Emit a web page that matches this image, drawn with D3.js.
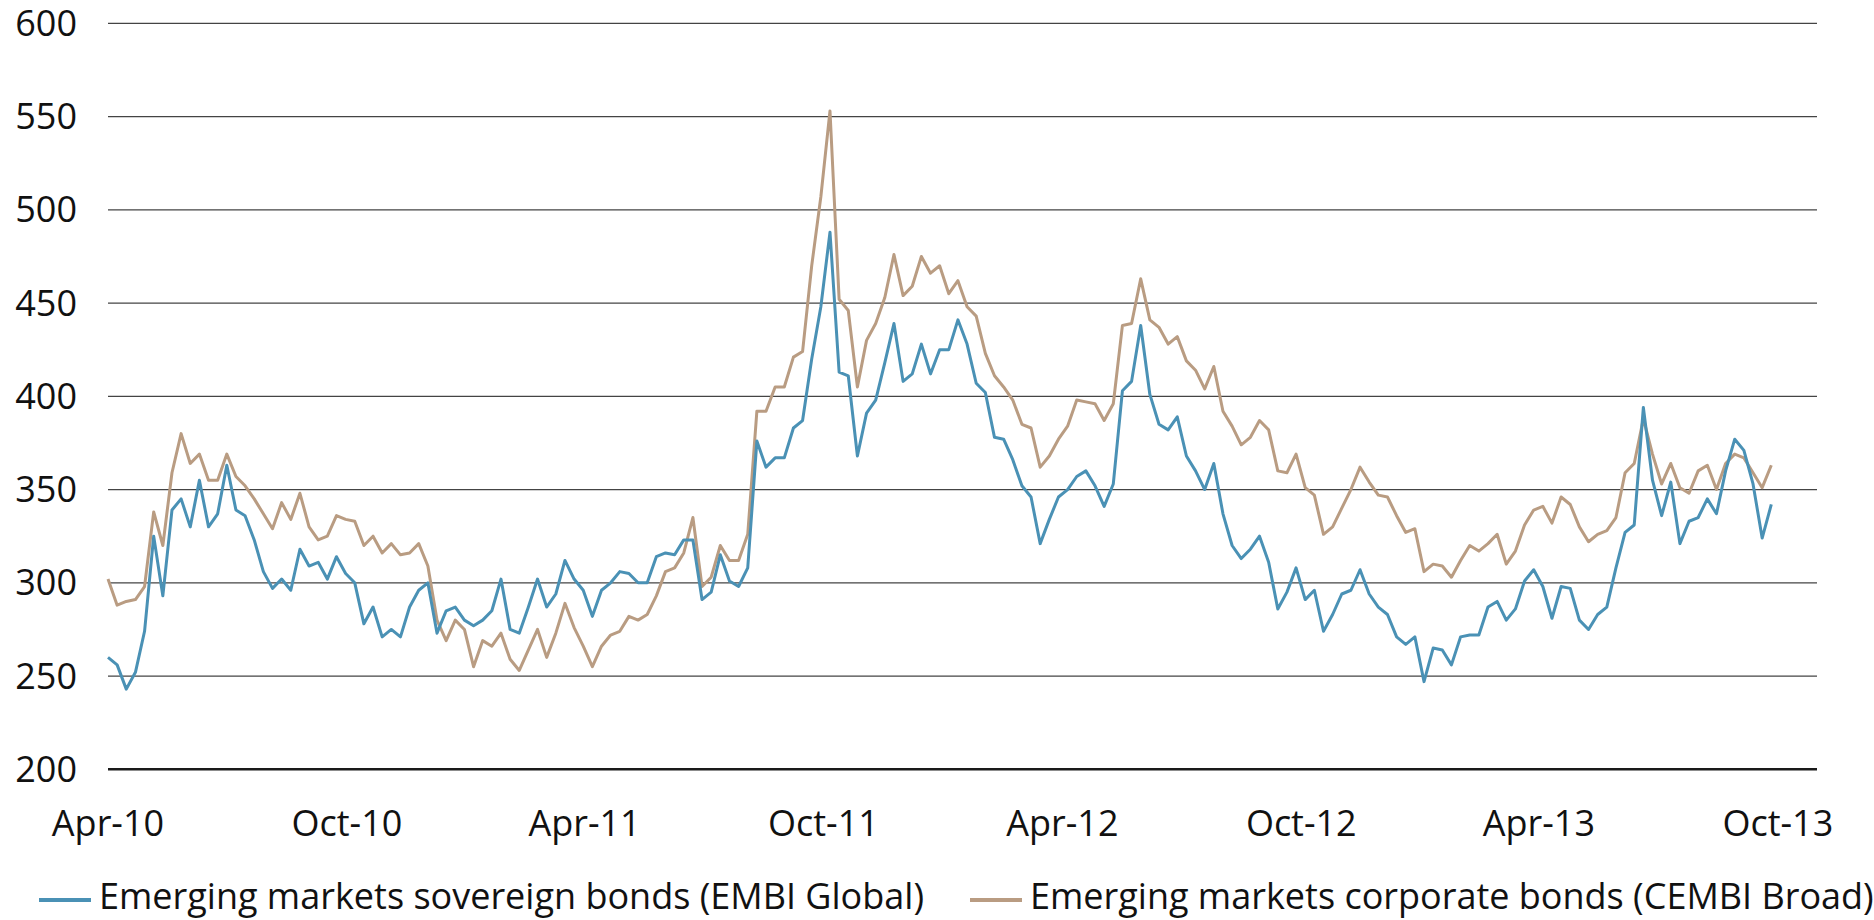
<!DOCTYPE html>
<html>
<head>
<meta charset="utf-8">
<script src="https://cdn.jsdelivr.net/npm/d3@7"></script>
<style>
  body { margin: 0; background: #fff; }
  svg text { font-family: "Open Sans", sans-serif; font-weight: 400; fill: #111; }
</style>
</head>
<body>
<svg id="chart" width="1874" height="920"></svg>
<script>
// weekly readings, starting 1 Apr 2010
const startDate = new Date(2010, 3, 1);

const sovereign = [
  260, 256, 243, 252, 274, 325, 293, 339, 345, 330, 355, 330, 337, 363, 339, 336, 323, 306, 297, 302,
  296, 318, 309, 311, 302, 314, 305, 300, 278, 287, 271, 275, 271, 287, 296, 300, 273, 285, 287, 280,
  277, 280, 285, 302, 275, 273, 287, 302, 287, 294, 312, 302, 296, 282, 296, 300, 306, 305, 300, 300,
  314, 316, 315, 323, 323, 291, 295, 315, 301, 298, 308, 376, 362, 367, 367, 383, 387, 420, 448, 488,
  413, 411, 368, 391, 398, 418, 439, 408, 412, 428, 412, 425, 425, 441, 428, 407, 402, 378, 377, 366,
  352, 346, 321, 334, 346, 350, 357, 360, 352, 341, 353, 403, 408, 438, 401, 385, 382, 389, 368, 360,
  350, 364, 337, 320, 313, 318, 325, 311, 286, 295, 308, 291, 296, 274, 283, 294, 296, 307, 294, 287,
  283, 271, 267, 271, 247, 265, 264, 256, 271, 272, 272, 287, 290, 280, 286, 301, 307, 298, 281, 298,
  297, 280, 275, 283, 287, 308, 327, 331, 394, 355, 336, 354, 321, 333, 335, 345, 337, 360, 377, 371,
  353, 324, 342
];

const corporate = [
  302, 288, 290, 291, 298, 338, 320, 359, 380, 364, 369, 355, 355, 369, 357, 352, 345, 337, 329, 343,
  334, 348, 330, 323, 325, 336, 334, 333, 320, 325, 316, 321, 315, 316, 321, 309, 280, 269, 280, 275,
  255, 269, 266, 273, 259, 253, 264, 275, 260, 273, 289, 276, 266, 255, 266, 272, 274, 282, 280, 283,
  293, 306, 308, 316, 335, 298, 303, 320, 312, 312, 326, 392, 392, 405, 405, 421, 424, 470, 507, 553,
  452, 446, 405, 430, 439, 453, 476, 454, 459, 475, 466, 470, 455, 462, 448, 443, 423, 411, 405, 398,
  385, 383, 362, 368, 377, 384, 398, 397, 396, 387, 396, 438, 439, 463, 441, 437, 428, 432, 419, 414,
  404, 416, 392, 384, 374, 378, 387, 382, 360, 359, 369, 351, 347, 326, 330, 340, 350, 362, 354, 347,
  346, 336, 327, 329, 306, 310, 309, 303, 312, 320, 317, 321, 326, 310, 317, 331, 339, 341, 332, 346,
  342, 330, 322, 326, 328, 335, 359, 364, 388, 369, 353, 364, 351, 348, 360, 363, 350, 364, 369, 367,
  359, 351, 363
];

const tickDates = ["2010-04-01", "2010-10-01", "2011-04-01", "2011-10-01",
                   "2012-04-01", "2012-10-01", "2013-04-01", "2013-10-01"];
const yTicks = [200, 250, 300, 350, 400, 450, 500, 550, 600];
const seriesNames = ["Emerging markets sovereign bonds (EMBI Global)",
                     "Emerging markets corporate bonds (CEMBI Broad)"];
const seriesColors = ["#4a91b5", "#b99c82"];

const svg = d3.select("#chart");
const parse = d3.timeParse("%Y-%m-%d");

const x = d3.scaleTime()
  .domain([new Date(2010, 3, 1), new Date(2013, 9, 31)])
  .range([108, 1817]);
const y = d3.scaleLinear().domain([200, 600]).range([769.3, 23.3]);

// gridlines
svg.append("g")
  .selectAll("line")
  .data(yTicks)
  .enter()
  .append("line")
  .attr("x1", x.range()[0])
  .attr("x2", x.range()[1])
  .attr("y1", (d) => y(d))
  .attr("y2", (d) => y(d))
  .attr("stroke", (d) => (d === 200 ? "#1a1a1a" : "#444"))
  .attr("stroke-width", (d) => (d === 200 ? 2.6 : 1.2));

// y labels
svg.append("g")
  .selectAll("text")
  .data(yTicks)
  .enter()
  .append("text")
  .attr("x", 77)
  .attr("y", (d) => y(d))
  .attr("dy", "0.35em")
  .attr("text-anchor", "end")
  .style("font-size", "36px")
  .text((d) => d);

// x labels
const fmt = d3.timeFormat("%b-%y");
svg.append("g")
  .selectAll("text")
  .data(tickDates.map(parse))
  .enter()
  .append("text")
  .attr("x", (d) => x(d))
  .attr("y", 836)
  .attr("text-anchor", "middle")
  .style("font-size", "36px")
  .text((d) => fmt(d));

// lines
const dates = sovereign.map((_, i) => d3.timeDay.offset(startDate, 7 * i));
const line = d3.line()
  .x((d, i) => x(dates[i]))
  .y((d) => y(d));

[corporate, sovereign].forEach((values, k) => {
  svg.append("path")
    .datum(values)
    .attr("fill", "none")
    .attr("stroke", k === 0 ? seriesColors[1] : seriesColors[0])
    .attr("stroke-width", 3)
    .attr("stroke-linejoin", "round")
    .attr("d", line);
});

// legend
const legendX = [39, 970];
const legend = svg.append("g")
  .selectAll("g")
  .data(seriesNames)
  .enter()
  .append("g")
  .attr("transform", (d, i) => `translate(${legendX[i]},900)`);

legend.append("line")
  .attr("x1", 0)
  .attr("x2", 52)
  .attr("stroke", (d, i) => seriesColors[i])
  .attr("stroke-width", 4);

legend.append("text")
  .attr("x", 60)
  .attr("y", 9)
  .style("font-size", "36px")
  .text((d) => d);
</script>
</body>
</html>
